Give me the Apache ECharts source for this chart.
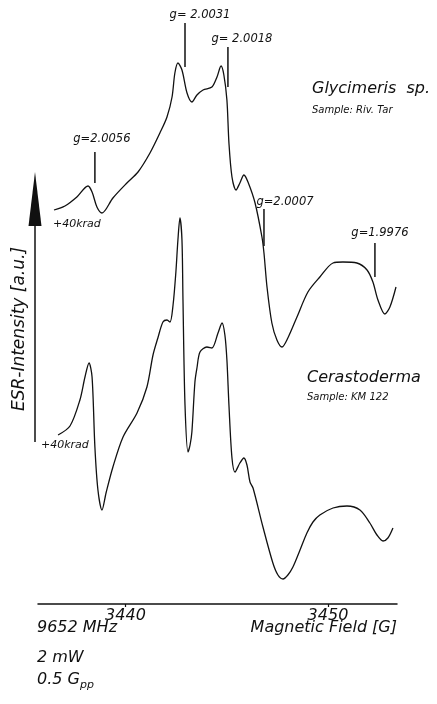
<!DOCTYPE html>
<html><head><meta charset="utf-8">
<script src="https://cdn.jsdelivr.net/npm/echarts@6/dist/echarts.min.js"></script>
<style>html,body{margin:0;padding:0;background:#fff}#c{width:437px;height:704px}</style>
</head><body><div id="c"></div>
<script>
// Glycimeris sp. (Sample Riv. Tar), +40 krad
const glyField = [3436.47,3437.01,3437.60,3438.15,3438.35,3438.59,3438.84,3439.38,3440.07,3440.62,3441.21,3441.70,3442.05,3442.30,3442.44,3442.59,3442.79,3443.04,3443.28,3443.53,3443.83,3444.27,3444.52,3444.72,3444.86,3445.01,3445.11,3445.26,3445.46,3445.65,3445.85,3446.05,3446.40,3446.74,3446.84,3446.99,3447.23,3447.48,3447.73,3448.02,3448.47,3449.01,3449.60,3450.25,3450.74,3451.43,3451.93,3452.22,3452.47,3452.81,3453.06,3453.36];
const glyIntensity = [39.4,39.8,40.7,41.8,41.2,39.7,39.1,40.6,42.1,43.2,45.1,47.1,48.7,50.7,53.1,54.1,53.4,51.1,50.2,50.9,51.4,51.7,52.7,53.8,52.9,50.4,46.1,42.7,41.4,42.1,42.9,42.2,40.1,36.7,35.1,31.7,28.1,26.4,25.7,26.6,28.7,31.2,32.7,34.1,34.2,34.1,33.4,32.2,30.4,29.0,29.7,31.7];
// Cerastoderma (Sample KM 122), +40 krad
const ceraField = [3436.67,3437.26,3437.75,3438.00,3438.20,3438.35,3438.49,3438.64,3438.84,3439.04,3439.38,3439.88,3440.57,3441.06,3441.36,3441.60,3441.85,3442.05,3442.20,3442.35,3442.49,3442.59,3442.69,3442.79,3442.84,3442.94,3443.09,3443.19,3443.28,3443.43,3443.53,3443.68,3444.02,3444.27,3444.57,3444.77,3444.91,3445.01,3445.11,3445.26,3445.41,3445.65,3445.85,3446.00,3446.15,3446.30,3446.79,3447.28,3447.53,3447.78,3448.02,3448.27,3448.62,3448.96,3449.26,3449.60,3450.25,3450.94,3451.58,3452.07,3452.42,3452.72,3452.96,3453.21];
const ceraIntensity = [16.9,17.8,20.4,22.7,24.1,22.7,15.7,11.4,9.4,11.1,13.7,16.7,19.1,21.7,24.9,26.6,28.2,28.4,28.2,29.9,33.2,36.4,38.6,36.4,30.4,19.9,15.2,15.9,17.2,22.2,23.6,25.2,25.7,25.6,27.1,28.1,26.9,24.4,19.9,14.6,13.2,14.1,14.6,13.9,12.2,11.6,7.7,4.1,2.9,2.5,2.9,3.7,5.4,7.1,8.2,8.9,9.6,9.8,9.4,8.1,6.9,6.3,6.6,7.6];
// g-value markers
const gLabels = ['g=2.0056','g= 2.0031','g= 2.0018','g=2.0007','g=1.9976'];
const gField = [3438.49,3442.94,3445.06,3446.84,3452.32];
const gTop = [45.2,58.1,55.7,39.5,36.1];
const gBottom = [42.1,53.7,51.7,35.8,32.7];
// axis ticks
const tickValues = [3440,3450];
const tickLabels = ['3440','3450'];

const FONT = 'DejaVu Sans';
const INK = '#111';
const gLabelOffset = [[7,13],[15,8],[14,8],[21,7],[5,10]];

const chart = echarts.init(document.getElementById('c'), null, {renderer:'canvas'});
const zip = (a,b) => a.map((v,i)=>[v,b[i]]);
const curveStyle = {type:'line', symbol:'none', smooth:0.3, silent:true, animation:false,
  lineStyle:{color:INK, width:1.3}};
const series = [
  Object.assign({name:'Glycimeris sp.', data: zip(glyField, glyIntensity)}, curveStyle),
  Object.assign({name:'Cerastoderma', data: zip(ceraField, ceraIntensity)}, curveStyle)
];
gField.forEach((f,i)=>{
  series.push({type:'line', symbol:'none', silent:true, animation:false,
    lineStyle:{color:INK, width:1.5}, data:[[f,gTop[i]],[f,gBottom[i]]]});
});
const txt = (x,y,text,size,align,extra) => Object.assign({type:'text', x, y, style:{text, fill:INK,
  font:'italic '+size+'px "'+FONT+'"', align:align||'left', verticalAlign:'middle'}}, extra||{});

chart.setOption({
  animation:false,
  backgroundColor:'#fff',
  grid:{left:38, right:40, top:4, bottom:100},
  xAxis:{type:'value', min:3435.68, max:3453.41,
    axisLine:{lineStyle:{color:INK, width:1.5}},
    axisTick:{customValues:tickValues, length:3, lineStyle:{color:INK, width:1.2}},
    axisLabel:{customValues:tickValues, margin:4, color:INK, fontFamily:FONT, fontStyle:'italic', fontSize:16,
      formatter:v=>tickLabels[tickValues.indexOf(v)] ?? String(v)},
    splitLine:{show:false}},
  yAxis:{type:'value', min:0, max:60, show:false},
  series
});

const graphics = [
  // intensity arrow
  {type:'line', shape:{x1:35,y1:442,x2:35,y2:222}, style:{stroke:INK, lineWidth:1.5}},
  {type:'polygon', shape:{points:[[28.5,226],[41.5,226],[35,172]]}, style:{fill:INK}},
  txt(20,329,'ESR-Intensity [a.u.]',17,'center',{rotation:Math.PI/2}),
  txt(312,89,'Glycimeris  sp.',16),
  txt(312,110,'Sample: Riv. Tar',10),
  txt(307,378,'Cerastoderma',16),
  txt(307,397,'Sample: KM 122',10),
  txt(53,224,'+40krad',11),
  txt(41,445,'+40krad',11),
  txt(37,628,'9652 MHz',16),
  txt(397,628,'Magnetic Field [G]',16,'right'),
  txt(37,658,'2 mW',16),
  {type:'text', x:37, y:680, style:{text:'0.5 G{s|pp}', fill:INK, font:'italic 16px "'+FONT+'"', verticalAlign:'middle',
    rich:{s:{fontSize:11, fontStyle:'italic', fontFamily:FONT, fill:INK, padding:[10,0,0,0]}}}}
];
gField.forEach((f,i)=>{
  const p = chart.convertToPixel({gridIndex:0}, [f, gTop[i]]);
  graphics.push(txt(p[0]+gLabelOffset[i][0], p[1]-gLabelOffset[i][1], gLabels[i], 11.5, 'center'));
});
chart.setOption({graphic:graphics});
</script></body></html>
